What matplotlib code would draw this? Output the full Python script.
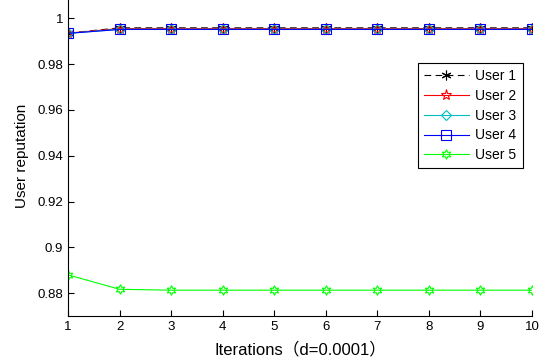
import numpy as np
import matplotlib.pyplot as plt

plt.rcParams['font.family'] = ['Liberation Sans', 'Noto Sans CJK SC', 'DejaVu Sans']

# data
iterations = [1, 2, 3, 4, 5, 6, 7, 8, 9, 10]
user1 = [0.9935, 0.9958, 0.9958, 0.9958, 0.9958, 0.9958, 0.9958, 0.9958, 0.9958, 0.9958]
user2 = [0.9935, 0.9955, 0.9955, 0.9955, 0.9955, 0.9955, 0.9955, 0.9955, 0.9955, 0.9955]
user3 = [0.9934, 0.9952, 0.9952, 0.9952, 0.9952, 0.9952, 0.9952, 0.9952, 0.9952, 0.9952]
user4 = [0.9934, 0.9951, 0.9951, 0.9951, 0.9951, 0.9951, 0.9951, 0.9951, 0.9951, 0.9951]
user5 = [0.8880, 0.8817, 0.8813, 0.8813, 0.8813, 0.8813, 0.8813, 0.8813, 0.8813, 0.8813]
labels = ['User 1', 'User 2', 'User 3', 'User 4', 'User 5']
yticks = [0.88, 0.9, 0.92, 0.94, 0.96, 0.98, 1]

fig = plt.figure(figsize=(5.4, 3.6), dpi=100)
ax = fig.add_axes([0.126, 0.122, 0.859, 0.891])

lw = 0.8
ax.plot(iterations, user1, color='k', ls=(0, (6, 4)), lw=lw, marker=(6, 2, 0), ms=7, mew=0.8, label=labels[0])
ax.plot(iterations, user2, color='r', ls='-', lw=lw, marker='*', ms=8, mfc='none', mew=0.8, label=labels[1])
ax.plot(iterations, user3, color='c', ls='-', lw=lw, marker='D', ms=5.5, mfc='none', mew=0.8, label=labels[2])
ax.plot(iterations, user4, color='b', ls='-', lw=lw, marker='s', ms=7, mfc='none', mew=0.8, label=labels[3])
ax.plot(iterations, user5, color='#00ff00', ls='-', lw=lw, marker=(6, 1, 0), ms=7, mfc='none', mew=0.8, label=labels[4])

ax.set_xlim(1, 10)
ax.set_ylim(0.87, 1.01)
ax.set_xticks(iterations)
ax.set_yticks(yticks)
ax.set_yticklabels(['0.88', '0.9', '0.92', '0.94', '0.96', '0.98', '1'])
ax.tick_params(direction='in', labelsize=9.5, length=4, width=0.8)
ax.spines['top'].set_visible(False)
ax.spines['right'].set_visible(False)
for s in ['left', 'bottom']:
    ax.spines[s].set_linewidth(0.8)

ax.set_xlabel('Iterations（d=0.0001）', fontsize=12, labelpad=6)
ax.set_ylabel('User reputation', fontsize=11, labelpad=6)

leg = ax.legend(loc='upper right', bbox_to_anchor=(0.9685, 0.826), bbox_transform=fig.transFigure,
                fontsize=10, fancybox=False, edgecolor='k', framealpha=1, borderaxespad=0,
                handlelength=3.2, handletextpad=0.5, labelspacing=0.42, borderpad=0.45)
leg.get_frame().set_linewidth(0.8)

fig.savefig('out.png', dpi=100)
